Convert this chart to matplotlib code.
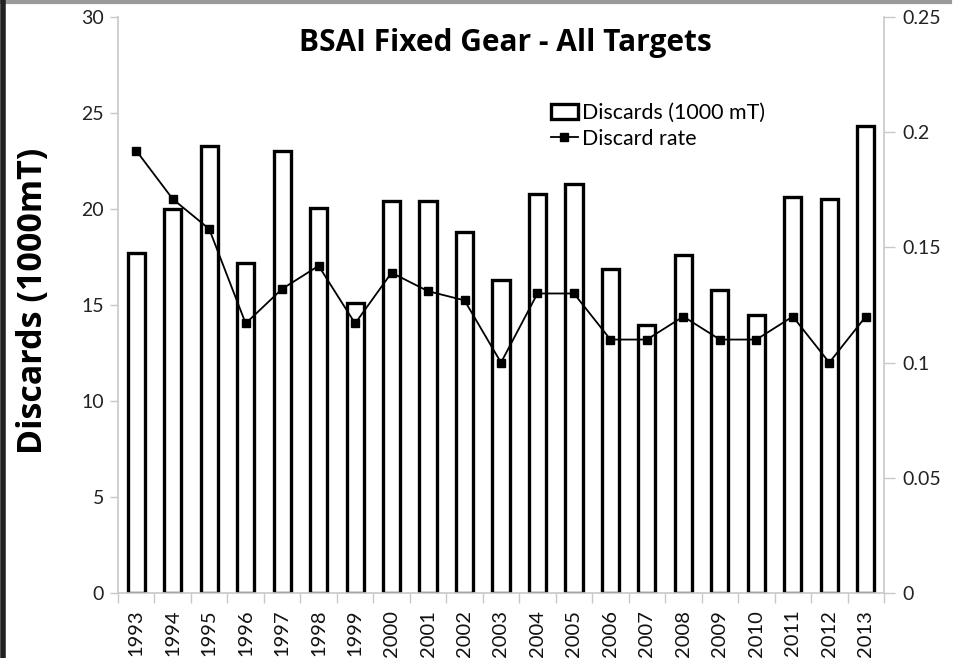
import matplotlib
matplotlib.use("Agg")
import matplotlib.pyplot as plt
from matplotlib.lines import Line2D
import numpy as np

years = [str(y) for y in range(1993, 2014)]
discards = [17.7, 20.0, 23.3, 17.2, 23.0, 20.05, 15.1, 20.4, 20.4, 18.8, 16.3,
            20.8, 21.3, 16.9, 13.95, 17.6, 15.8, 14.5, 20.6, 20.5, 24.3]
rate = [0.192, 0.171, 0.158, 0.117, 0.132, 0.142, 0.117, 0.139, 0.131, 0.127, 0.100,
        0.130, 0.130, 0.110, 0.110, 0.120, 0.110, 0.110, 0.120, 0.100, 0.120]
left_ticks = [0, 5, 10, 15, 20, 25, 30]
right_ticks = [0, 0.05, 0.1, 0.15, 0.2, 0.25]
right_labels = ["0", "0.05", "0.1", "0.15", "0.2", "0.25"]

plt.rcParams['font.family'] = ['Lato', 'DejaVu Sans']
W, H = 962, 658
fig = plt.figure(figsize=(W/100, H/100), dpi=100)
ax = fig.add_axes([118/W, 1-593/H, (884-118)/W, (593-17)/H])
x = np.arange(len(years))
bars = ax.bar(x, discards, width=0.47, facecolor='white', edgecolor='black',
              linewidth=2.4, label='Discards (1000 mT)', zorder=2)
ax.set_xlim(-0.5, len(years)-0.5)
ax.set_ylim(0, 30)
ax.set_yticks(left_ticks)
ax.set_yticklabels([str(t) for t in left_ticks], fontsize=14, color='#222222')
ax.set_xticks(x)
ax.set_xticklabels(years, rotation=90, fontsize=14.5, color='#111111')
ax.tick_params(axis='x', length=0, pad=12)
ax.set_xticks(np.arange(-0.5, len(years), 1), minor=True)
ax.tick_params(axis='x', which='minor', length=7, color='#c8c8c8', width=1)
ax.tick_params(axis='y', length=6, color='#c8c8c8', width=1, pad=4)
for s in ['top', 'right']:
    ax.spines[s].set_visible(False)
for s in ['left', 'bottom']:
    ax.spines[s].set_color('#c8c8c8')
    ax.spines[s].set_linewidth(1.2)

fig.text(33/W, 1-301/H, 'Discards (1000mT)', rotation=90, ha='center', va='center',
         fontsize=24.5, fontweight='bold', family=['Open Sans', 'DejaVu Sans'])

ax2 = ax.twinx()
ax2.set_ylim(0, 0.25)
line, = ax2.plot(x, rate, color='black', linewidth=1.3, marker='s', markersize=6,
                 label='Discard rate', zorder=3)
ax2.set_yticks(right_ticks)
ax2.set_yticklabels(right_labels, fontsize=14, color='#222222')
ax2.tick_params(axis='y', length=8, color='#c8c8c8', width=1, pad=5)
for s in ['top', 'left', 'bottom']:
    ax2.spines[s].set_visible(False)
ax2.spines['right'].set_color('#c8c8c8')
ax2.spines['right'].set_linewidth(1.2)

fig.text(505/W, 1-43/H, 'BSAI Fixed Gear - All Targets', ha='center', va='center',
         fontsize=21.5, fontweight='bold', family=['Open Sans', 'DejaVu Sans'])
leg = ax2.legend([bars, line], ['Discards (1000 mT)', 'Discard rate'],
                 loc='upper left', bbox_to_anchor=((542-118)/(884-118), (593-94)/(593-17)),
                 frameon=False, fontsize=15.4, handlelength=1.3, handletextpad=0.15,
                 labelspacing=0.3, borderaxespad=0)

fig.add_artist(Line2D([0, 950/W], [1-1.5/H, 1-1.5/H], color='#9a9a9a', linewidth=3))
fig.add_artist(Line2D([2.5/W, 2.5/W], [0, 1], color='#222222', linewidth=4))

fig.savefig('out.png', dpi=100)
